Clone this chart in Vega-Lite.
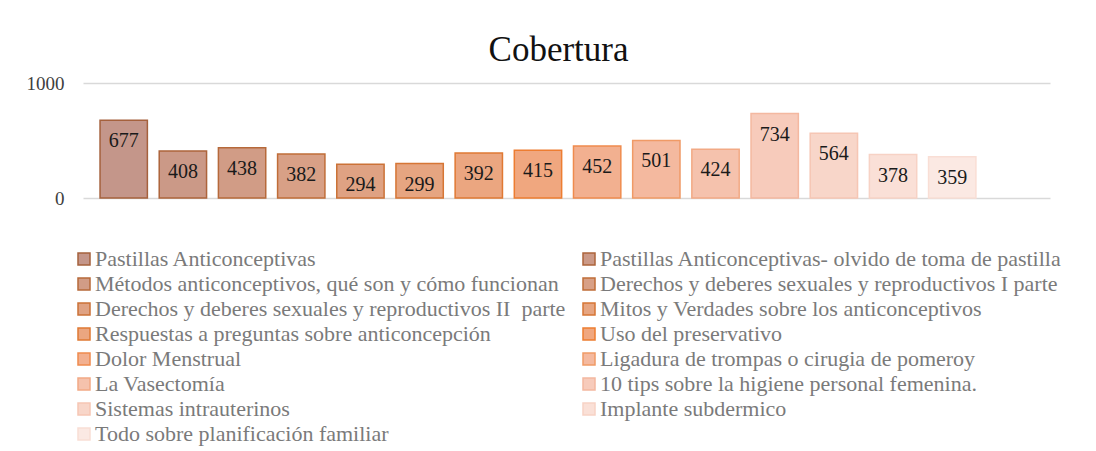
{
  "$schema": "https://vega.github.io/schema/vega-lite/v6.json",
  "autosize": "none",
  "width": 967,
  "height": 115,
  "padding": {"left": 83, "top": 83, "right": 46, "bottom": 253},
  "background": "white",
  "title": {
    "text": "Cobertura",
    "font": "Liberation Serif",
    "fontSize": 35,
    "fontWeight": "normal",
    "color": "#111111",
    "anchor": "middle",
    "dx": -8,
    "offset": 6
  },
  "data": {
    "values": [
      {"tema": "Pastillas Anticonceptivas", "cobertura": 677},
      {"tema": "Pastillas Anticonceptivas- olvido de toma de pastilla", "cobertura": 408},
      {"tema": "\u2002Métodos anticonceptivos, qué son y cómo funcionan", "cobertura": 438},
      {"tema": "Derechos y deberes sexuales y reproductivos I parte", "cobertura": 382},
      {"tema": "Derechos y deberes sexuales y reproductivos II\u00a0 parte", "cobertura": 294},
      {"tema": "Mitos y Verdades sobre los anticonceptivos", "cobertura": 299},
      {"tema": "Respuestas a preguntas sobre anticoncepción", "cobertura": 392},
      {"tema": "Uso del preservativo", "cobertura": 415},
      {"tema": "Dolor Menstrual", "cobertura": 452},
      {"tema": "Ligadura de trompas o cirugia de pomeroy", "cobertura": 501},
      {"tema": "La Vasectomía", "cobertura": 424},
      {"tema": "10 tips sobre la higiene personal femenina.", "cobertura": 734},
      {"tema": "Sistemas intrauterinos", "cobertura": 564},
      {"tema": "Implante subdermico", "cobertura": 378},
      {"tema": "Todo sobre planificación familiar", "cobertura": 359}
    ]
  },
  "encoding": {
    "x": {
      "field": "tema",
      "type": "nominal",
      "sort": null,
      "axis": null,
      "scale": {"paddingInner": 0.2, "paddingOuter": 0.77, "align": 0.187}
    },
    "y": {
      "field": "cobertura",
      "type": "quantitative",
      "scale": {"domain": [0, 1000]},
      "axis": {
        "title": null,
        "values": [0, 1000],
        "format": "d",
        "domain": false,
        "ticks": false,
        "grid": true,
        "gridColor": "#d9d9d9",
        "gridWidth": 1.5,
        "labelFont": "Liberation Serif",
        "labelFontSize": 19,
        "labelColor": "#404040",
        "labelPadding": 19
      }
    }
  },
  "layer": [
    {
      "mark": {"type": "bar", "strokeWidth": 1.5, "fillOpacity": 1},
      "encoding": {
        "fill": {
          "field": "tema",
          "type": "nominal",
          "sort": null,
          "scale": {"range": ["#c4968a", "#cb9987", "#d19c86", "#d8a086", "#dfa283", "#e6a581", "#eba680", "#f0a77f", "#f2b090", "#f4b99f", "#f5c2ad", "#f7cbbb", "#f8d6c9", "#fae0d7", "#fbe9e3"]},
          "legend": {
            "title": null,
            "orient": "none",
            "direction": "horizontal",
            "legendX": -10,
            "legendY": 165,
            "columns": 2,
            "symbolType": "square",
            "symbolSize": 144,
            "symbolStrokeWidth": 1.5,
            "labelFont": "Liberation Serif",
            "labelFontSize": 22,
            "labelColor": "#7a7a7a",
            "labelLimit": 0,
            "labelOffset": 0,
            "rowPadding": 3,
            "columnPadding": 12
          }
        },
        "stroke": {
          "field": "tema",
          "type": "nominal",
          "sort": null,
          "scale": {"range": ["#a5613d", "#ad643b", "#b6693a", "#c06d38", "#cb7237", "#d67635", "#e07933", "#ed7d31", "#ef8b4d", "#f09a66", "#f2a985", "#f4b8a0", "#f6c6b4", "#f7d2c5", "#f9ded5"]},
          "legend": null
        }
      }
    },
    {
      "mark": {"type": "text", "baseline": "middle", "dy": 21, "font": "Liberation Serif", "fontSize": 20, "color": "#1a1a1a"},
      "encoding": {
        "text": {"field": "cobertura", "type": "quantitative"}
      }
    }
  ],
  "config": {
    "view": {"stroke": null}
  }
}
